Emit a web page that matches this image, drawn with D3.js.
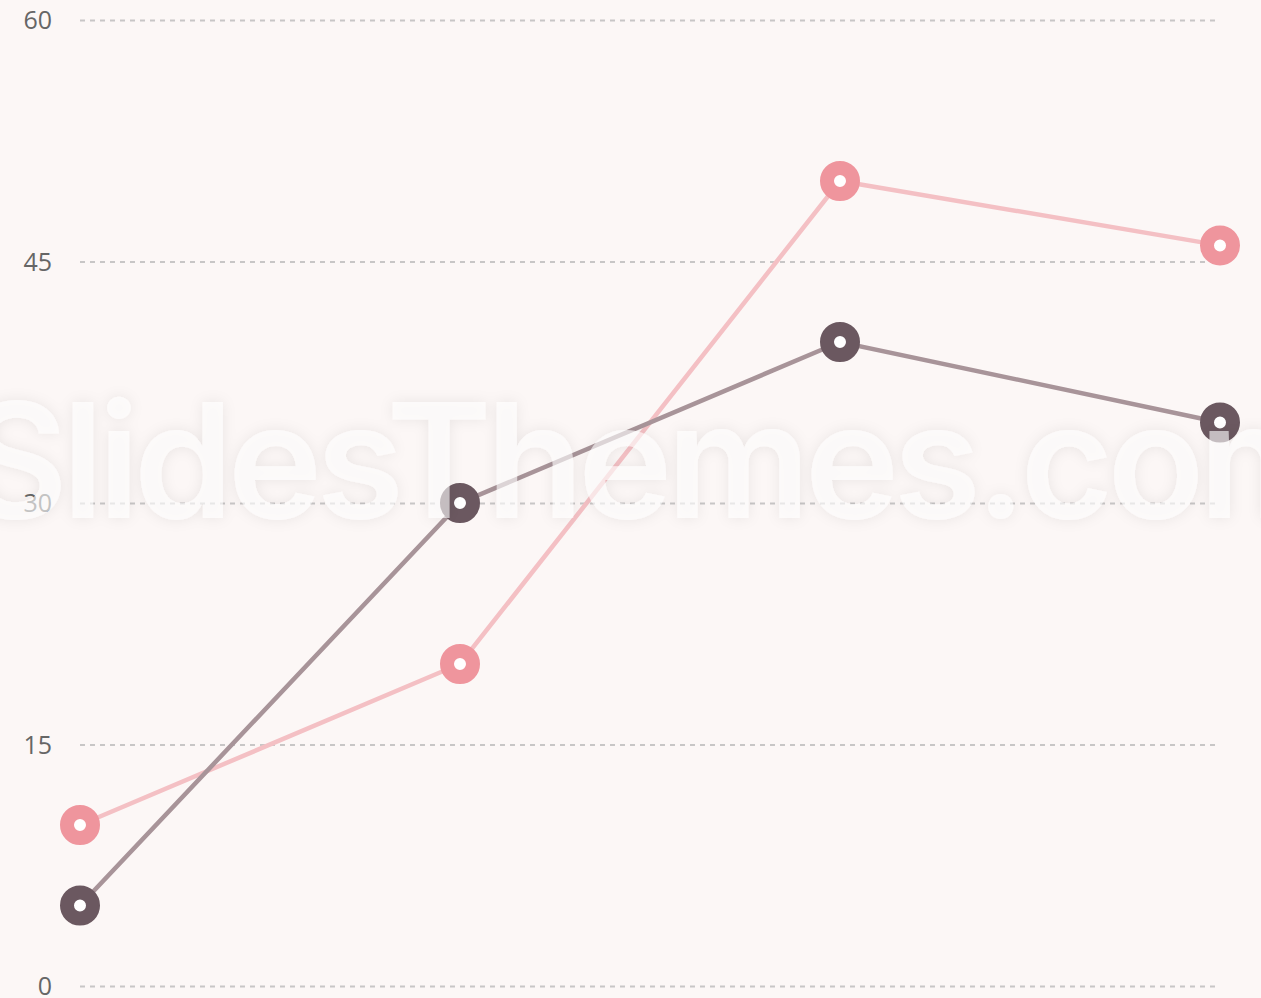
<!DOCTYPE html>
<html>
<head>
<meta charset="utf-8">
<script src="https://d3js.org/d3.v7.min.js"></script>
<style>
  html, body { margin: 0; padding: 0; background: #fcf7f6; }
  svg { display: block; }
</style>
</head>
<body>
<svg id="chart"></svg>
<script>
// ── data ─────────────────────────────────────────
const categories = ["A", "B", "C", "D"];
const seriesPink = [10, 20, 50, 46];
const seriesDark = [5, 30, 40, 35];
const yTicks = [0, 15, 30, 45, 60];

const W = 1261, H = 998;
const svg = d3.select("#chart").attr("width", W).attr("height", H);

svg.append("rect").attr("width", W).attr("height", H).attr("fill", "#fcf7f6");

const x = d3.scalePoint().domain(categories).range([80, 1220]);
const y = d3.scaleLinear().domain([0, 60]).range([986, 20]);

// grid
const gy = svg.append("g")
    .attr("transform", "translate(80,0)")
    .call(d3.axisRight(y).tickValues(yTicks).tickSize(1136).tickFormat(""));
gy.select(".domain").remove();
gy.selectAll(".tick line")
    .attr("stroke", "#c8c6c6")
    .attr("stroke-width", 2)
    .attr("stroke-dasharray", "5,5");

// labels
svg.append("g").selectAll("text")
    .data(yTicks)
    .join("text")
    .attr("x", 52)
    .attr("y", d => y(d))
    .attr("dy", "0.36em")
    .attr("text-anchor", "end")
    .attr("font-family", "'Open Sans', sans-serif")
    .attr("font-size", 25)
    .attr("fill", "#666")
    .text(d => d);

// ── series ─────────────────────────────────────────
const series = [
    { values: seriesPink, line: "#f4c0c4", mark: "#ef959d" },
    { values: seriesDark, line: "#a89499", mark: "#6b5860" }
];

const line = d3.line().x((d, i) => x(categories[i])).y(d => y(d));

series.forEach(s => {
    svg.append("path")
        .datum(s.values)
        .attr("d", line)
        .attr("fill", "none")
        .attr("stroke", s.line)
        .attr("stroke-width", 4.5);
});

series.forEach(s => {
    svg.append("g").selectAll("circle")
        .data(s.values)
        .join("circle")
        .attr("cx", (d, i) => x(categories[i]))
        .attr("cy", d => y(d))
        .attr("r", 13)
        .attr("fill", "#fff")
        .attr("stroke", s.mark)
        .attr("stroke-width", 14);
});

// watermark
const defs = svg.append("defs");
const f = defs.append("filter").attr("id", "wm").attr("x", "-10%").attr("y", "-30%")
    .attr("width", "120%").attr("height", "160%");
f.append("feDropShadow").attr("dx", 0).attr("dy", 0).attr("stdDeviation", 7)
    .attr("flood-color", "#000").attr("flood-opacity", 0.12);

svg.append("text")
    .attr("x", -36)
    .attr("y", 518)
    .attr("font-family", "Inter, 'Noto Sans', sans-serif")
    .attr("font-weight", 600)
    .attr("font-size", 160)
    .attr("letter-spacing", -6)
    .attr("fill", "#ffffff")
    .attr("fill-opacity", 0.6)
    .attr("filter", "url(#wm)")
    .text("SlidesThemes.com");
</script>
</body>
</html>
